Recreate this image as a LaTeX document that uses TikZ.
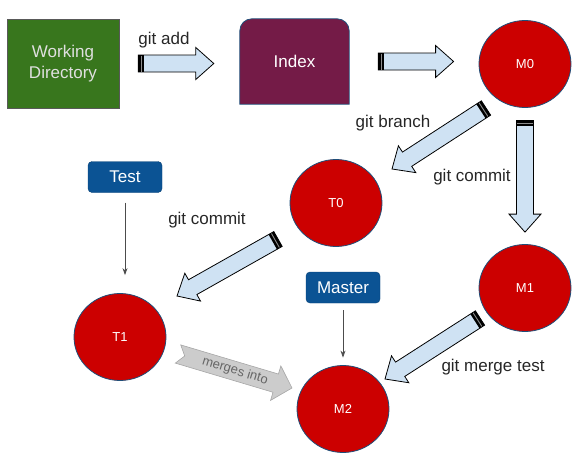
\documentclass[tikz,border=0pt]{standalone}
\usepackage{fontspec}
\setmainfont{Liberation Sans}
\usetikzlibrary{positioning,calc,shapes.geometric,arrows.meta,backgrounds}

\definecolor{wdgreen}{HTML}{38761D}
\definecolor{idxpurple}{HTML}{741B47}
\definecolor{commitred}{HTML}{CC0000}
\definecolor{edgeblue}{HTML}{1F4E79}
\definecolor{refblue}{HTML}{0B5394}
\definecolor{arrowblue}{HTML}{CFE2F3}

\tikzset{
  commit/.style={ellipse, fill=commitred, draw=edgeblue, line width=0.8pt,
    minimum width=92pt, minimum height=87pt, text=white,
    font=\fontsize{13}{15}\selectfont},
  refbox/.style={rectangle, rounded corners=4pt, fill=refblue, draw=refblue!80!black,
    minimum width=74pt, minimum height=31pt, text=white,
    font=\fontsize{17}{20}\selectfont},
  lbl/.style={font=\fontsize{17}{20}\selectfont, text=black!85},
  blockfill/.style={fill=arrowblue, draw=black, line width=0.8pt, line join=miter},
  pointer/.style={draw=black!70, line width=0.8pt, -{Stealth[length=7pt,width=5pt]}},
}

% fat arrow with a striped tail: #2 = tail, #3 = tip
\newcommand\blockarr[3][]{%
  \coordinate (ba-t) at ($(#3)!18pt!(#2)$);
  \coordinate (ba-b) at ($(#2)!6pt!(#3)$);
  \coordinate (ba-m) at ($(#2)!3pt!(#3)$);
  \filldraw[blockfill,#1] ($(#2)!8.5pt!90:(#3)$) -- ($(ba-t)!8.5pt!90:(#3)$)
    -- ($(ba-t)!16pt!90:(#3)$) -- (#3) -- ($(ba-t)!16pt!-90:(#3)$)
    -- ($(ba-t)!8.5pt!-90:(#3)$) -- ($(#2)!8.5pt!-90:(#3)$) -- cycle;
  \fill[black] ($(#2)!8.5pt!90:(#3)$) -- ($(ba-b)!8.5pt!90:(#3)$)
    -- ($(ba-b)!8.5pt!-90:(#3)$) -- ($(#2)!8.5pt!-90:(#3)$) -- cycle;
  \draw[black!45, line width=0.9pt] ($(ba-m)!8pt!90:(#3)$) -- ($(ba-m)!8pt!-90:(#3)$);
}

\begin{document}
\begin{tikzpicture}[x=1pt,y=-1pt]
\useasboundingbox (0,0) rectangle (579,455);

% working copy and staging area
\node[rectangle, fill=wdgreen, draw=black!65, minimum width=112pt, minimum height=89pt,
  text=black!12, align=center, font=\fontsize{17}{21}\selectfont] (wd) at (63,63.5) {Working\\Directory};
\node[minimum width=109pt, minimum height=85pt, text=white,
  font=\fontsize{17}{20}\selectfont] (idx) at (294.5,61.5) {Index};
\begin{scope}[on background layer]
  \filldraw[fill=idxpurple, draw=edgeblue, line width=0.8pt] (idx.south west)
    -- ($(idx.north west)+(0,12)$) arc[start angle=180, end angle=90, radius=12pt]
    -- ($(idx.north east)+(-12,0)$) arc[start angle=90, end angle=0, radius=12pt]
    -- (idx.south east) -- cycle;
\end{scope}

% commits
\foreach \n/\t/\x/\y in {m0/M0/525/64, t0/T0/336/203, t1/T1/120/337, m1/M1/525/288, m2/M2/343/409}{%
  \node[commit] (\n) at (\x,\y) {\t};
}

% branch heads
\node[refbox] (test) at (125,177) {Test};
\node[refbox] (master) at (343,287.5) {Master};
\draw[pointer, shorten <=10pt, shorten >=18pt] (test.south) -- (test.south |- t1.north);
\draw[pointer, shorten <=7pt, shorten >=7.5pt] (master.south) -- (master.south |- m2.north);

% arrow ends
\coordinate (add-s) at ($(wd.east)+(19,0)$);
\coordinate (add-e) at ($(add-s -| idx.west)+(-26,0)$);
\coordinate (stage-s) at ($(idx.east)+(29,0)$);
\coordinate (stage-e) at ($(stage-s -| m0.west)+(-25,0)$);
\coordinate (branch-s) at ($(m0)+(-39,44)$);
\coordinate (branch-e) at ($(t0)+(56,-34)$);
\coordinate (commit-s) at ($(m0.south)+(0,12.5)$);
\coordinate (commit-e) at ($(m1.north)+(0,-12)$);
\coordinate (tcommit-s) at ($(t0)+(-58,36)$);
\coordinate (tcommit-e) at ($(t1)+(57,-41)$);
\coordinate (merge-s) at ($(m1)+(-45,30)$);
\coordinate (merge-e) at ($(m2)+(42,-30)$);
\coordinate (into-s) at ($(t1)+(58,17)$);
\coordinate (into-e) at ($(m2)+(-51,-21)$);

\blockarr{add-s}{add-e}
\blockarr{stage-s}{stage-e}
\blockarr{branch-s}{branch-e}
\blockarr{commit-s}{commit-e}
\blockarr{tcommit-s}{tcommit-e}
\blockarr{merge-s}{merge-e}

% grey merge hint
\coordinate (into-t) at ($(into-e)!17pt!(into-s)$);
\coordinate (into-n) at ($(into-s)!7pt!(into-e)$);
\filldraw[fill=black!20, draw=black!35, line width=0.6pt]
  ($(into-s)!9.5pt!90:(into-e)$) -- ($(into-t)!9.5pt!90:(into-e)$)
  -- ($(into-t)!18pt!90:(into-e)$) -- (into-e) -- ($(into-t)!18pt!-90:(into-e)$)
  -- ($(into-t)!9.5pt!-90:(into-e)$) -- ($(into-s)!9.5pt!-90:(into-e)$) -- (into-n) -- cycle;
\node[rotate=-17, text=black!60, font=\fontsize{13}{15}\selectfont] (l-into)
  at ($(into-s)!0.5!(into-e)$) {merges into};

% labels
\node[lbl] (l-add) at (164,40) {git add};
\node[lbl] (l-branch) at (393,123) {git branch};
\node[lbl] (l-commit) at (472,177) {git commit};
\node[lbl] (l-tcommit) at (207,220) {git commit};
\node[lbl] (l-merge) at (493,367) {git merge test};
\end{tikzpicture}
\end{document}
